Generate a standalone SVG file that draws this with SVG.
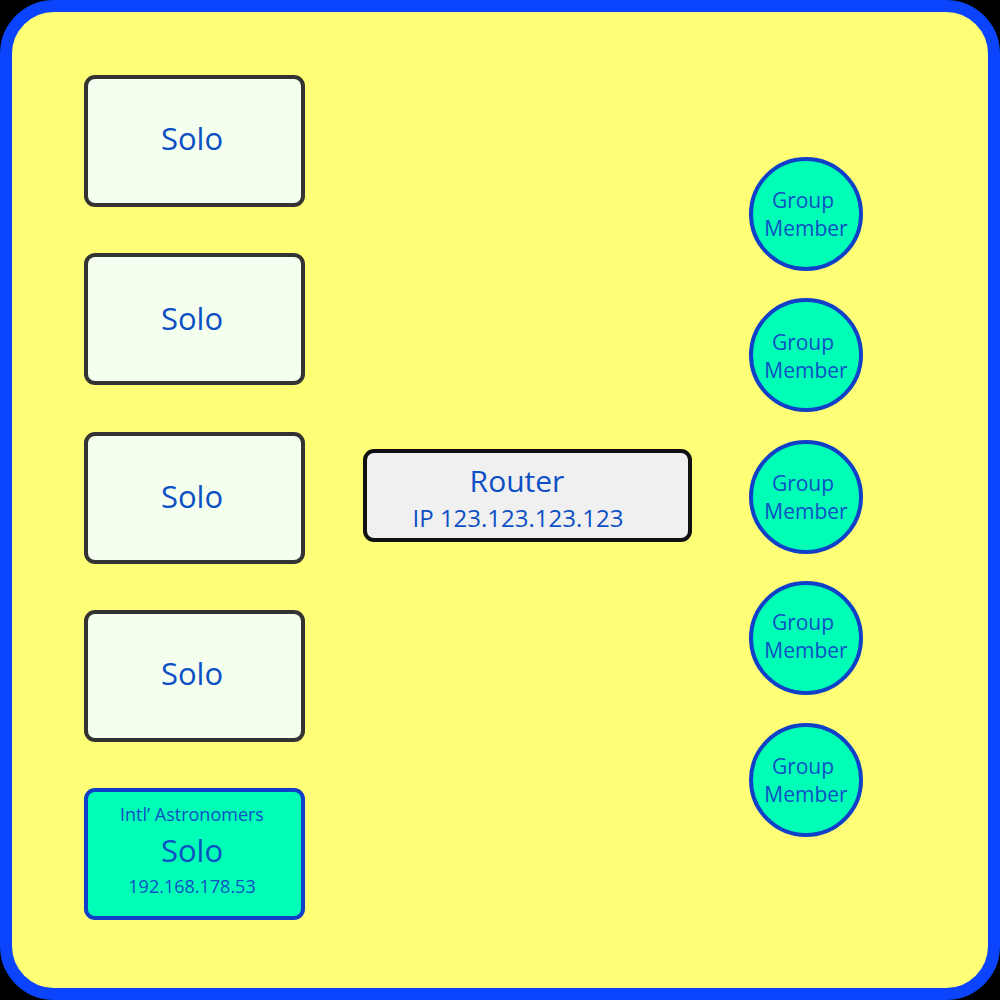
<svg xmlns="http://www.w3.org/2000/svg" width="1000" height="1000" viewBox="0 0 1000 1000">
<style>
text{font-family:"Open Sans","Noto Sans",sans-serif;fill:#0d4fc4;text-anchor:middle;dominant-baseline:central}
.solo rect{fill:#f4fff0;stroke:#333;stroke-width:4}
.big{font-size:31px}
.gm circle{fill:#00ffb6;stroke:#1040c8;stroke-width:4}
.gm text{font-size:21px}
</style>
<rect width="1000" height="1000" fill="#000"/>
<rect x="6" y="6" width="988" height="988" rx="48" fill="#ffff77" stroke="#0a44ff" stroke-width="12"/>
<g id="connectors"/>
<g id="solo1" class="solo"><rect x="86" y="77" width="217" height="128" rx="9"/><text class="big" x="192" y="138">Solo</text></g>
<g id="solo2" class="solo"><rect x="86" y="255" width="217" height="128" rx="9"/><text class="big" x="192" y="318">Solo</text></g>
<g id="solo3" class="solo"><rect x="86" y="434" width="217" height="128" rx="9"/><text class="big" x="192" y="496">Solo</text></g>
<g id="solo4" class="solo"><rect x="86" y="612" width="217" height="128" rx="9"/><text class="big" x="192" y="673">Solo</text></g>
<g id="solo5"><rect x="86" y="790" width="217" height="128" rx="9" fill="#00ffb6" stroke="#1040c8" stroke-width="4"/>
<text x="192" y="814" font-size="18">Intl’ Astronomers</text><text class="big" x="192" y="850">Solo</text><text x="192" y="886" font-size="18">192.168.178.53</text></g>
<g id="router"><rect x="365" y="451" width="325" height="89" rx="9" fill="#f0f0f0" stroke="#111" stroke-width="4"/>
<text x="517" y="480" font-size="30">Router</text><text x="518" y="517" font-size="24">IP 123.123.123.123</text></g>
<g id="gm1" class="gm"><circle cx="806" cy="214" r="55"/><text x="803" y="200">Group</text><text x="806" y="228">Member</text></g>
<g id="gm2" class="gm"><circle cx="806" cy="355" r="55"/><text x="803" y="342">Group</text><text x="806" y="370">Member</text></g>
<g id="gm3" class="gm"><circle cx="806" cy="497" r="55"/><text x="803" y="483">Group</text><text x="806" y="511">Member</text></g>
<g id="gm4" class="gm"><circle cx="806" cy="638" r="55"/><text x="803" y="622">Group</text><text x="806" y="650">Member</text></g>
<g id="gm5" class="gm"><circle cx="806" cy="780" r="55"/><text x="803" y="766">Group</text><text x="806" y="794">Member</text></g>
</svg>
